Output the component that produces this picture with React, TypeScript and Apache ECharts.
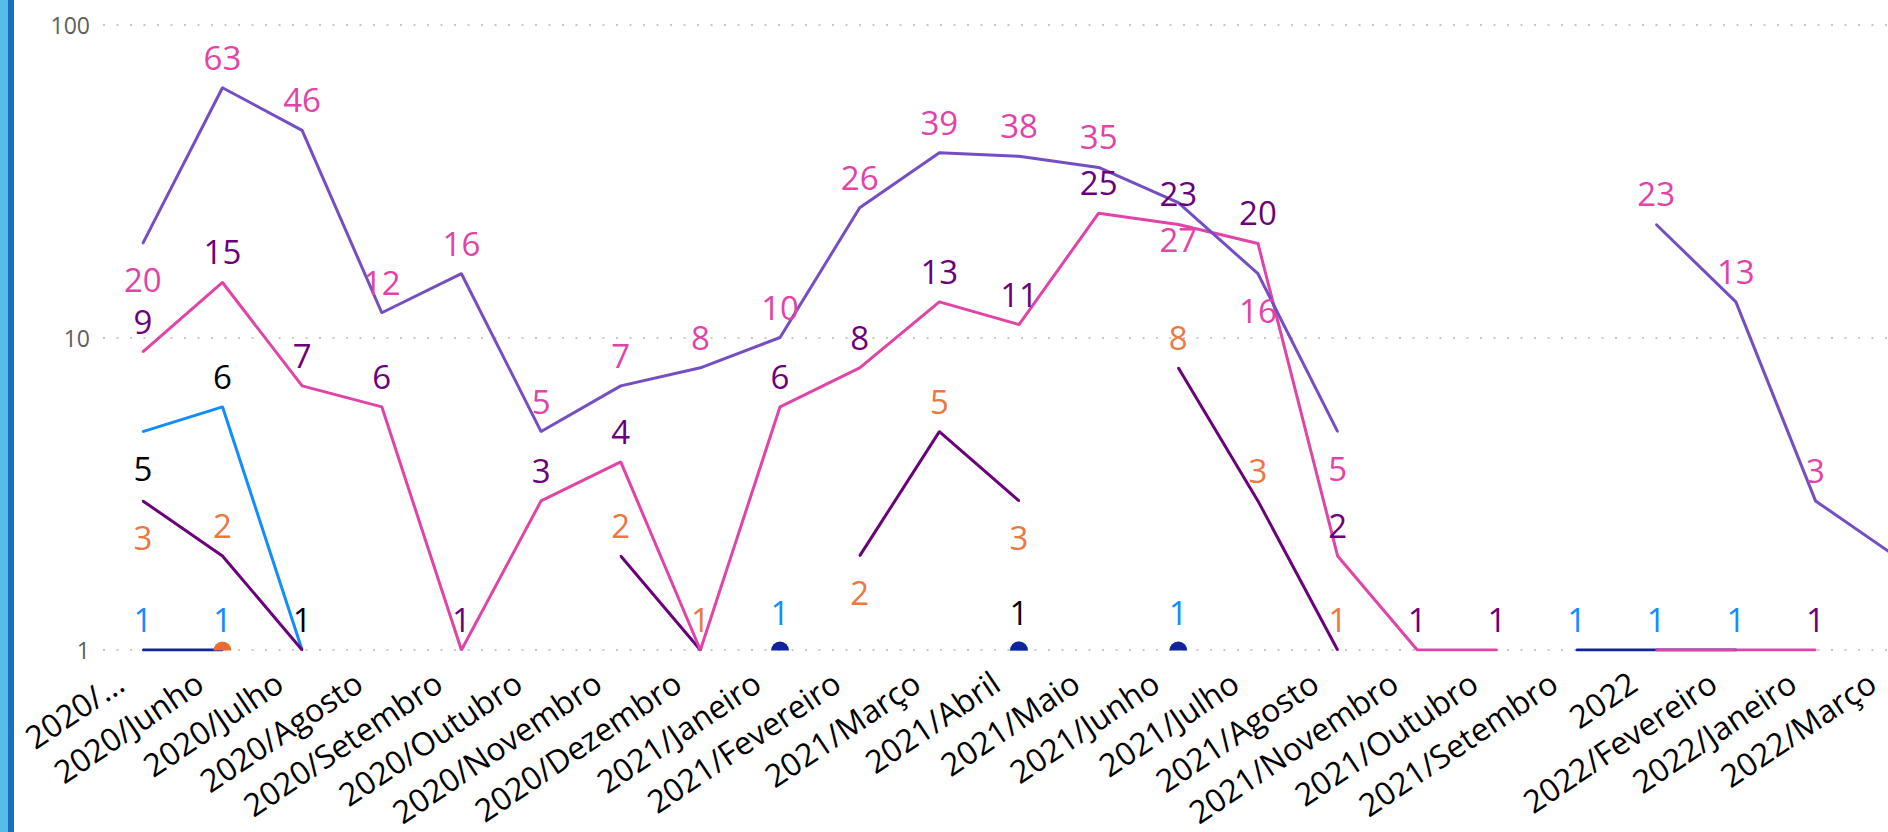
import React, { useEffect, useRef } from 'react';
import * as echarts from 'echarts';

const categories = [
  '2020/...', '2020/Junho', '2020/Julho', '2020/Agosto', '2020/Setembro', '2020/Outubro',
  '2020/Novembro', '2020/Dezembro', '2021/Janeiro', '2021/Fevereiro', '2021/Março', '2021/Abril',
  '2021/Maio', '2021/Junho', '2021/Julho', '2021/Agosto', '2021/Novembro', '2021/Outubro',
  '2021/Setembro', '2022', '2022/Fevereiro', '2022/Janeiro', '2022/Março',
];

const yTicks = [1, 10, 100];

const blueValues = [5, 6, 1, null, null, null, null, null, null, null, null, 1, null, null, null, null, null, null, null, null, null, null, null];
const darkBlueValues = [1, 1, null, null, null, null, null, null, 1, null, null, 1, null, 1, null, null, null, null, 1, 1, 1, null, null];
const orangeValues = [null, 1, null, null, null, null, null, null, null, null, null, null, null, null, null, null, null, null, null, null, null, null, null];
const darkPurpleValues = [3, 2, 1, null, null, null, 2, 1, null, 2, 5, 3, null, 8, 3, 1, null, null, null, null, null, null, null];
const pinkValues = [9, 15, 7, 6, 1, 3, 4, 1, 6, 8, 13, 11, 25, 23, 20, 2, 1, 1, null, 1, 1, 1, null];
const violetValues = [20, 63, 46, 12, 16, 5, 7, 8, 10, 26, 39, 38, 35, 27, 16, 5, null, null, null, 23, 13, 3, 2];

// style configuration (label placement / colours)
const seriesDefs = [
  { name: 'Série 1', values: blueValues, color: '#118DFF', labelColor: '#000000', below: [0], hidden: [] as number[] },
  { name: 'Série 2', values: darkBlueValues, color: '#12239E', labelColor: '#118DFF', below: [] as number[], hidden: [11] },
  { name: 'Série 3', values: orangeValues, color: '#E66C37', labelColor: '#12239E', below: [] as number[], hidden: [1] },
  { name: 'Série 4', values: darkPurpleValues, color: '#6B007B', labelColor: '#E97843', below: [0, 9, 11], hidden: [2] },
  { name: 'Série 5', values: pinkValues, color: '#E044A7', labelColor: '#6B007B', below: [] as number[], hidden: [7, 19, 20] },
  { name: 'Série 6', values: violetValues, color: '#744EC2', labelColor: '#E044A7', below: [0, 13, 14, 15], hidden: [22] },
];

const FONT = "'Segoe UI', 'Open Sans', 'Noto Sans', sans-serif";
const DOME = 'path://M0,10 A10,10 0 0 1 20,10 Z';
const CHART_W = 1940;

export default function App() {
  const ref = useRef<HTMLDivElement>(null);

  useEffect(() => {
    if (!ref.current) return;
    const chart = echarts.init(ref.current, undefined, { renderer: 'svg' });

    const series = seriesDefs.map((def) => {
      const data = def.values.map((v, i) => {
        if (v == null) return null;
        const prev = i > 0 ? def.values[i - 1] : null;
        const next = i < def.values.length - 1 ? def.values[i + 1] : null;
        const isolated = prev == null && next == null;
        const below = def.below.includes(i);
        const hidden = def.hidden.includes(i);
        return {
          value: v,
          symbol: isolated ? DOME : 'circle',
          symbolSize: isolated ? [18, 9] : 2,
          symbolOffset: isolated ? [0, -4] : [0, 0],
          label: {
            show: !hidden,
            position: below ? 'bottom' : 'top',
            distance: below ? 19 : 13,
          },
        };
      });
      return {
        name: def.name,
        type: 'line',
        data,
        showSymbol: true,
        showAllSymbol: true,
        symbol: 'circle',
        symbolSize: 2,
        connectNulls: false,
        silent: true,
        itemStyle: { color: def.color },
        lineStyle: { color: def.color, width: 3 },
        label: {
          show: true,
          color: def.labelColor,
          fontSize: 33,
          fontFamily: FONT,
          formatter: (p: any) => String(p.value),
        },
        labelLayout: { hideOverlap: false },
      };
    });

    chart.setOption({
      animation: false,
      textStyle: { fontFamily: FONT },
      graphic: [
        { type: 'rect', left: 0, top: 0, shape: { x: 0, y: 0, width: 8, height: 832 }, style: { fill: '#56BDEA' }, z: 100 },
        { type: 'rect', left: 8, top: 0, shape: { x: 0, y: 0, width: 6, height: 832 }, style: { fill: '#1C6EC1' }, z: 100 },
      ],
      grid: { left: 103, right: CHART_W - 103 - 1832, top: 25, bottom: 182, containLabel: false },
      xAxis: {
        type: 'category',
        data: categories,
        boundaryGap: true,
        axisLine: { show: false },
        axisTick: { show: false },
        axisLabel: {
          interval: 0,
          rotate: 34,
          margin: 13,
          padding: [0, 28, 0, 0],
          color: '#000000',
          fontSize: 32,
          fontFamily: FONT,
        },
        splitLine: { show: false },
      },
      yAxis: {
        type: 'log',
        logBase: 10,
        min: yTicks[0],
        max: yTicks[yTicks.length - 1],
        axisLine: { show: false },
        axisTick: { show: false },
        axisLabel: {
          margin: 13,
          color: '#605E5C',
          fontSize: 23,
          fontFamily: FONT,
          formatter: (v: number) => String(Math.round(v)),
        },
        splitLine: {
          show: true,
          lineStyle: { color: '#C8C8C8', width: 2, type: [2, 11.5] },
        },
      },
      series,
    });

    return () => chart.dispose();
  }, []);

  return (
    <div style={{ position: 'fixed', left: 0, top: 0, width: 1888, height: 832, overflow: 'hidden', background: '#ffffff' }}>
      <div ref={ref} style={{ width: CHART_W, height: 832 }} />
    </div>
  );
}
